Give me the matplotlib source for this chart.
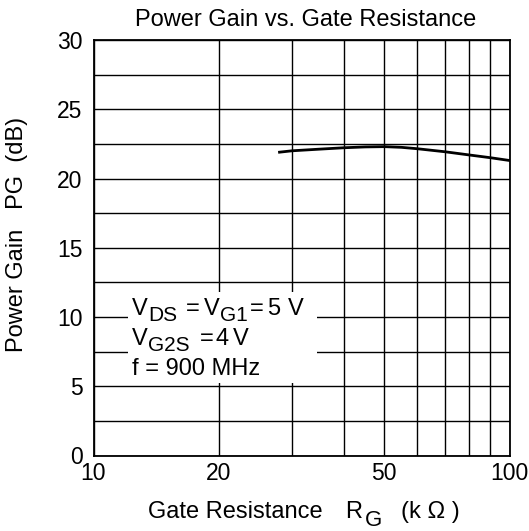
import numpy as np
import matplotlib.pyplot as plt
from matplotlib.ticker import FixedLocator, NullFormatter, FixedFormatter
from matplotlib.transforms import IdentityTransform
from matplotlib.patches import Rectangle

plt.rcParams['font.family'] = ['Liberation Sans', 'DejaVu Sans']

# data
rg_kohm = [28, 30, 35, 40, 45, 50, 55, 60, 70, 80, 90, 100]
gain_db = [21.9, 22.0, 22.12, 22.22, 22.28, 22.3, 22.25, 22.15, 21.93, 21.7, 21.5, 21.3]

x_major = [10, 20, 50, 100]
x_minor = [30, 40, 60, 70, 80, 90]
y_major = [0, 5, 10, 15, 20, 25, 30]

W, H = 529, 531
fig = plt.figure(figsize=(W / 100, H / 100), dpi=100)
ax = fig.add_axes([93.5 / W, 1 - 455.5 / H, 416 / W, 415.5 / H])

ax.plot(rg_kohm, gain_db, color='black', linewidth=2.0, zorder=3)

ax.set_xscale('log')
ax.set_xlim(10, 100)
ax.set_ylim(0, 30)

ax.xaxis.set_major_locator(FixedLocator(x_major))
ax.xaxis.set_major_formatter(FixedFormatter([str(v) for v in x_major]))
ax.xaxis.set_minor_locator(FixedLocator(x_minor))
ax.xaxis.set_minor_formatter(NullFormatter())
ax.yaxis.set_major_locator(FixedLocator(y_major))
ax.yaxis.set_minor_locator(FixedLocator(np.arange(2.5, 30, 5)))

ax.grid(which='both', color='black', linewidth=1.0)
ax.tick_params(which='both', length=0, labelsize=16.5)
ax.tick_params(axis='y', pad=8)
ax.tick_params(axis='x', pad=5)
for s in ax.spines.values():
    s.set_linewidth(1.3)

ax.set_title('Power Gain vs. Gate Resistance', fontsize=17, pad=10, x=0.511)
ax.set_ylabel('Power Gain   PG  (dB)', fontsize=17)
ax.yaxis.set_label_coords(-0.158, 0.531)


def put_pieces(y_base, pieces):
    # pieces: (text, left x in px, drop below baseline in px, font size)
    for s, x, drop, fs in pieces:
        fig.text(x, H - (y_base + drop), s, fontsize=fs, ha='left',
                 va='baseline', transform=IdentityTransform(), zorder=5)


# white box behind the condition text
fig.patches.append(Rectangle((128, H - 383), 189, 91, transform=IdentityTransform(),
                             facecolor='white', edgecolor='none', zorder=1))

put_pieces(315, [('V', 132, 0, 17), ('DS', 148, 6, 15), ('=', 186, 0, 17),
                 ('V', 204, 0, 17), ('G1', 220, 6, 15), ('=', 250, 0, 17),
                 ('5', 267, 0, 17), ('V', 288, 0, 17)])
put_pieces(345, [('V', 132, 0, 17), ('G2S', 148, 6, 15), ('=', 200, 0, 17),
                 ('4', 216, 0, 17), ('V', 233, 0, 17)])
put_pieces(375, [('f = 900 MHz', 132, 0, 17)])

# x label with a full-size lowered subscript
put_pieces(518, [('Gate Resistance', 148, 0, 17), ('R', 345, 0, 17),
                 ('G', 365, 8, 16), ('(k Ω )', 401, 0, 17)])

fig.savefig('out.png', dpi=100)
